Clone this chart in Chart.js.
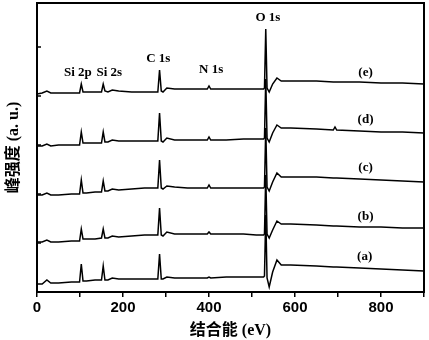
<!DOCTYPE html>
<html>
<head>
<meta charset="utf-8">
<script src="https://cdn.jsdelivr.net/npm/chart.js@4"></script>
<style>
  html, body { margin: 0; padding: 0; background: #fff; }
  #wrap { width: 429px; height: 340px; }
</style>
</head>
<body>
<div id="wrap"><canvas id="xpsChart"></canvas></div>
<script>
// binding energy (eV) sampled for all spectra
const energies = [0, 12, 23, 32, 50, 80, 99, 103, 107, 115, 135, 150, 154, 158, 165, 175, 190, 220, 250, 270,
  281, 285, 289, 293, 302, 320, 350, 380, 396, 400, 404, 440, 480, 510, 527, 529, 532, 535, 540, 548,
  558, 568, 590, 650, 689, 693, 697, 750, 800, 850, 900];

// intensity (a.u., stacked)
const seriesA = [8, 8, 12, 9, 9, 10, 10, 28, 11, 11, 12, 12, 26, 12, 12, 14, 13, 13, 13, 13,
  13, 38, 13, 13, 15, 14, 14, 14, 14, 15, 14, 15, 15, 15, 15, 16, 77, 14, 5, 20,
  32, 27, 27, 26, 25, 25, 25, 24, 23, 22, 21];
const seriesB = [50, 50, 52, 50, 50, 51, 51, 63, 53, 53, 53, 54, 63, 54, 54, 56, 55, 56, 57, 57,
  57, 84, 57, 56, 60, 58, 58, 58, 58, 60, 58, 58, 58, 57, 57, 58, 117, 58, 54, 62,
  71, 68, 68, 67, 66, 66, 66, 65, 65, 64, 64];
const seriesC = [97, 97, 99, 97, 97, 98, 98, 112, 99, 99, 100, 100, 111, 101, 101, 103, 102, 103, 104, 104,
  104, 132, 104, 103, 106, 105, 104, 104, 104, 107, 104, 104, 104, 104, 104, 105, 164, 105, 101, 110,
  119, 115, 115, 115, 114, 114, 114, 113, 112, 111, 110];
const seriesD = [146, 146, 148, 146, 147, 147, 147, 160, 149, 149, 149, 149, 160, 150, 150, 152, 151, 151, 151, 151,
  151, 179, 151, 150, 154, 152, 152, 152, 152, 155, 152, 152, 153, 153, 153, 154, 213, 154, 150, 159,
  167, 164, 164, 163, 162, 165, 162, 161, 160, 160, 159];
const seriesE = [198, 199, 201, 199, 199, 199, 199, 208, 200, 200, 200, 200, 208, 201, 200, 202, 201, 200, 200, 200,
  200, 222, 201, 200, 204, 203, 203, 203, 203, 206, 203, 203, 203, 203, 203, 204, 263, 204, 200, 208,
  214, 211, 211, 211, 210, 210, 210, 210, 209, 209, 208];

// annotations
const peakLabels = ["Si 2p", "Si 2s", "C 1s", "N 1s", "O 1s"];
const peakLabelX = [95, 168, 282, 405, 537];
const peakLabelY = [219, 219, 233, 222, 274];
const curveTags = ["(a)", "(b)", "(c)", "(d)", "(e)"];
const curveTagX = [762, 764, 764, 764, 764];
const curveTagY = [35, 75, 124, 172, 219];

const allSeries = [seriesA, seriesB, seriesC, seriesD, seriesE];

const frame = {
  id: 'frame',
  afterDatasetsDraw(chart) {
    const { ctx, chartArea: a, scales: { x, y } } = chart;
    ctx.save();
    ctx.strokeStyle = '#000';
    ctx.lineWidth = 2;
    ctx.strokeRect(a.left, a.top, a.right - a.left, a.bottom - a.top);
    // small inward ticks on the intensity axis
    ctx.lineWidth = 1.5;
    y.ticks.forEach(t => {
      const py = y.getPixelForValue(t.value);
      ctx.beginPath();
      ctx.moveTo(a.left, py);
      ctx.lineTo(a.left + 4, py);
      ctx.stroke();
    });
    ctx.fillStyle = '#000';
    ctx.font = 'bold 13px "Liberation Serif"';
    ctx.textAlign = 'center';
    ctx.textBaseline = 'middle';
    peakLabels.forEach((t, i) => {
      ctx.fillText(t, x.getPixelForValue(peakLabelX[i]), y.getPixelForValue(peakLabelY[i]));
    });
    curveTags.forEach((t, i) => {
      ctx.fillText(t, x.getPixelForValue(curveTagX[i]), y.getPixelForValue(curveTagY[i]));
    });
    ctx.restore();
  }
};

const ctx = document.getElementById("xpsChart").getContext("2d");
new Chart(ctx, {
  type: 'line',
  data: {
    datasets: allSeries.map((s, i) => ({
      label: curveTags[i],
      data: energies.map((e, j) => ({ x: e, y: s[j] })),
      borderColor: '#000',
      borderWidth: 1.5,
      pointRadius: 0,
      tension: 0,
      fill: false
    }))
  },
  options: {
    responsive: true,
    maintainAspectRatio: false,
    animation: false,
    layout: { padding: { top: 3, right: 5, left: 0, bottom: 0 } },
    plugins: { legend: { display: false }, tooltip: { enabled: false } },
    scales: {
      x: {
        type: 'linear',
        min: 0,
        max: 900,
        afterFit: s => { s.height = 48; },
        border: { display: true, color: '#000', width: 2 },
        grid: { display: true, drawOnChartArea: false, drawTicks: true, tickLength: 5, color: '#000', lineWidth: 1.5 },
        ticks: {
          stepSize: 100,
          autoSkip: false,
          maxRotation: 0,
          padding: 2,
          color: '#000',
          font: { family: '"Liberation Sans"', size: 15, weight: 'bold' },
          callback: v => (v % 200 === 0 && v < 900) ? String(v) : ''
        },
        title: {
          display: true,
          text: '结合能 (eV)',
          color: '#000',
          padding: { top: 0, bottom: 0 },
          font: { family: '"Liberation Serif", "Noto Sans CJK SC"', size: 16, weight: 'bold' }
        }
      },
      y: {
        type: 'linear',
        min: 0,
        max: 289,
        afterFit: s => { s.width = 37; },
        border: { display: true, color: '#000', width: 2 },
        grid: { display: false },
        ticks: { display: false, stepSize: 49 },
        title: {
          display: true,
          text: '峰强度 (a. u.)',
          color: '#000',
          padding: { top: 4, bottom: 0 },
          font: { family: '"Liberation Serif", "Noto Sans CJK SC"', size: 16, weight: 'bold' }
        }
      }
    }
  },
  plugins: [frame]
});
</script>
</body>
</html>
